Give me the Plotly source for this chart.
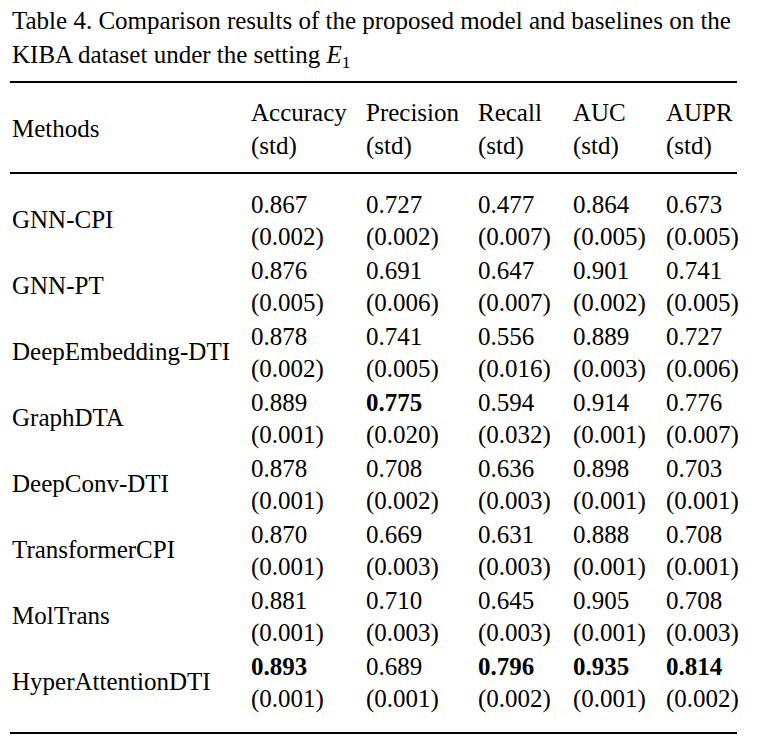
import plotly.graph_objects as go

# ---- data ----
title_lines = ["Table 4. Comparison results of the proposed model and baselines on the",
               "KIBA dataset under the setting <i>E</i><sub>1</sub>"]
methods = ["GNN-CPI", "GNN-PT", "DeepEmbedding-DTI", "GraphDTA", "DeepConv-DTI",
           "TransformerCPI", "MolTrans", "HyperAttentionDTI"]
metrics = ["Accuracy", "Precision", "Recall", "AUC", "AUPR"]
accuracy = [0.867, 0.876, 0.878, 0.889, 0.878, 0.870, 0.881, 0.893]
accuracy_std = [0.002, 0.005, 0.002, 0.001, 0.001, 0.001, 0.001, 0.001]
precision = [0.727, 0.691, 0.741, 0.775, 0.708, 0.669, 0.710, 0.689]
precision_std = [0.002, 0.006, 0.005, 0.020, 0.002, 0.003, 0.003, 0.001]
recall = [0.477, 0.647, 0.556, 0.594, 0.636, 0.631, 0.645, 0.796]
recall_std = [0.007, 0.007, 0.016, 0.032, 0.003, 0.003, 0.003, 0.002]
auc = [0.864, 0.901, 0.889, 0.914, 0.898, 0.888, 0.905, 0.935]
auc_std = [0.005, 0.002, 0.003, 0.001, 0.001, 0.001, 0.001, 0.001]
aupr = [0.673, 0.741, 0.727, 0.776, 0.703, 0.708, 0.708, 0.814]
aupr_std = [0.005, 0.005, 0.006, 0.007, 0.001, 0.001, 0.003, 0.002]

values = [accuracy, precision, recall, auc, aupr]
stds = [accuracy_std, precision_std, recall_std, auc_std, aupr_std]

# ---- layout constants ----
W, H = 775, 747
FONT = "Liberation Serif, Times New Roman, serif"
FS = 25
left, right = 10, 737
col_x = [249, 364, 476, 571, 664]
title_y = [20, 56]
rule_y = [82, 173, 733]
header_y = [112, 146]
row0 = 204
pitch = 66
sub = 33

ann = []
def add(x, y, text):
    ann.append(dict(x=x, y=y, xref="x", yref="y", text=text, showarrow=False,
                    xanchor="left", yanchor="middle",
                    font=dict(family=FONT, size=FS, color="black")))

for i, t in enumerate(title_lines):
    add(left, title_y[i], t)

add(left, (header_y[0] + header_y[1]) / 2 - 1, "Methods")
for j, m in enumerate(metrics):
    add(col_x[j], header_y[0], m)
    add(col_x[j], header_y[1], "(std)")

for i, m in enumerate(methods):
    y = row0 + i * pitch
    add(left, y + sub / 2 - 1, m)
    for j in range(len(metrics)):
        v = values[j][i]
        txt = f"{v:.3f}"
        if v == max(values[j]):
            txt = f"<b>{txt}</b>"
        add(col_x[j], y, txt)
        add(col_x[j], y + sub, f"({stds[j][i]:.3f})")

shapes = [dict(type="line", xref="x", yref="y", x0=left, x1=right, y0=ry, y1=ry,
               line=dict(color="black", width=2)) for ry in rule_y]

fig = go.Figure()
fig.update_layout(
    width=W, height=H, margin=dict(l=0, r=0, t=0, b=0),
    paper_bgcolor="white", plot_bgcolor="white",
    xaxis=dict(range=[0, W], visible=False, fixedrange=True),
    yaxis=dict(range=[H, 0], visible=False, fixedrange=True),
    annotations=ann, shapes=shapes, showlegend=False,
)
fig.write_html("out.html", config={"displayModeBar": False},
               post_script="document.body.style.margin='0';document.body.style.overflow='hidden';")
